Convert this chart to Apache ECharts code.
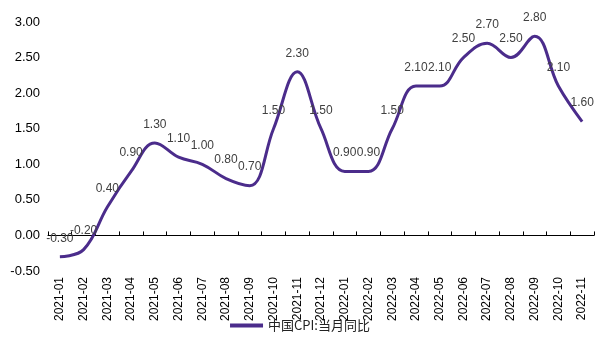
<!DOCTYPE html>
<html>
<head>
<meta charset="utf-8">
<script src="https://cdn.jsdelivr.net/npm/echarts@6/dist/echarts.min.js"></script>
<style>html,body{margin:0;padding:0;background:#fff}#c{width:600px;height:343px}</style>
</head>
<body>
<div id="c"></div>
<script>
const categories = ["2021-01","2021-02","2021-03","2021-04","2021-05","2021-06","2021-07","2021-08","2021-09","2021-10","2021-11","2021-12","2022-01","2022-02","2022-03","2022-04","2022-05","2022-06","2022-07","2022-08","2022-09","2022-10","2022-11"];
const cpiValues = [-0.30,-0.20,0.40,0.90,1.30,1.10,1.00,0.80,0.70,1.50,2.30,1.50,0.90,0.90,1.50,2.10,2.10,2.50,2.70,2.50,2.80,2.10,1.60];
const seriesName = "中国CPI:当月同比";
const lineColor = '#4B2C8B';

const chart = echarts.init(document.getElementById('c'), null, {renderer:'canvas'});
chart.setOption({
  animation:false,
  backgroundColor:'#fff',
  grid:{left:48,right:6,top:22,bottom:72,containLabel:false},
  legend:{
    bottom:6,left:'center',
    icon:'rect',itemWidth:33,itemHeight:4,itemGap:6,
    textStyle:{fontFamily:'Noto Sans CJK SC',fontSize:13,color:'#222'},
    data:[{name:seriesName,itemStyle:{color:lineColor,opacity:1}}]
  },
  xAxis:{
    type:'category',data:categories,boundaryGap:true,
    axisLine:{onZero:true,lineStyle:{color:'#000',width:1}},
    axisTick:{show:true,inside:true,length:4,lineStyle:{color:'#000'}},
    axisLabel:{rotate:90,interval:0,fontSize:12,color:'#000',fontFamily:'Liberation Sans',margin:6},
    splitLine:{show:false}
  },
  yAxis:{
    type:'value',min:-0.5,max:3,interval:0.5,
    axisLine:{show:false},axisTick:{show:false},splitLine:{show:false},
    axisLabel:{formatter:v=>v.toFixed(2),fontSize:13,color:'#000',fontFamily:'Liberation Sans',margin:8}
  },
  series:[{
    name:seriesName,type:'line',data:cpiValues,smooth:0.4,
    symbol:'circle',symbolSize:1,showSymbol:true,
    lineStyle:{color:lineColor,width:3},
    itemStyle:{color:'rgba(0,0,0,0)',borderWidth:0},
    labelLayout:{hideOverlap:false},
    label:{show:true,position:'top',distance:12,formatter:p=>p.value.toFixed(2),fontSize:12,color:'#404040',fontFamily:'Liberation Sans'}
  }]
});
</script>
</body>
</html>
